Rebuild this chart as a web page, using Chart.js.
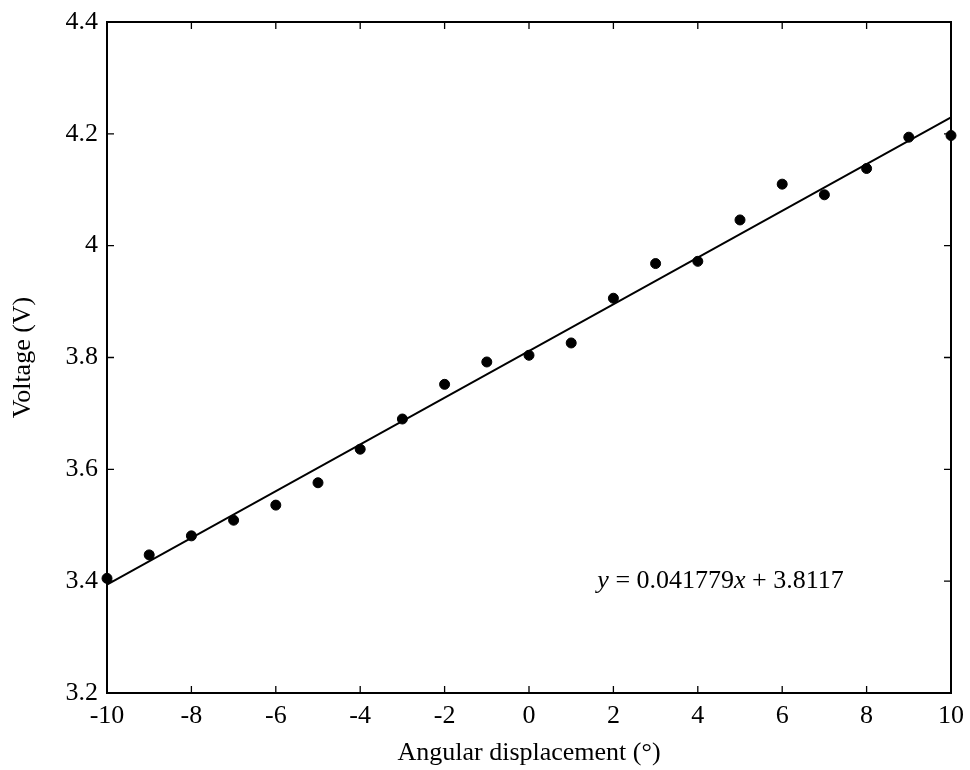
<!DOCTYPE html>
<html lang="en">
<head>
    <meta charset="UTF-8">
    <title>Voltage vs angular displacement</title>
    <script src="https://cdn.jsdelivr.net/npm/chart.js"></script>
    <style>
        html, body { margin: 0; padding: 0; background: #fff; }
        #wrap { width: 970px; height: 770px; position: relative; }
    </style>
</head>
<body>
    <div id="wrap"><canvas id="fitChart"></canvas></div>

    <script>
        // measured points
        const angles = [-10, -9, -8, -7, -6, -5, -4, -3, -2, -1, 0, 1, 2, 3, 4, 5, 6, 7, 8, 9, 10];
        const voltages = [3.405, 3.447, 3.481, 3.509, 3.536, 3.576, 3.636, 3.690, 3.752, 3.792, 3.804, 3.826,
                          3.906, 3.968, 3.972, 4.046, 4.110, 4.091, 4.138, 4.194, 4.197];

        // fitted line end points (y = 0.041779x + 3.8117)
        const fitX = [-10, 10];
        const fitY = [3.3939, 4.2295];

        const xTicks = [-10, -8, -6, -4, -2, 0, 2, 4, 6, 8, 10];
        const yTicks = [3.2, 3.4, 3.6, 3.8, 4.0, 4.2, 4.4];

        const serif = '"Liberation Serif", "DejaVu Serif", serif';
        const fsize = 26;

        // frame with inward ticks on all four sides, plus the equation label
        const framePlugin = {
            id: 'frame',
            afterDraw(chart) {
                const { ctx, chartArea: a, scales: { x, y } } = chart;
                const len = 7;
                ctx.save();
                ctx.strokeStyle = '#000';
                ctx.lineWidth = 2;
                ctx.strokeRect(a.left, a.top, a.right - a.left, a.bottom - a.top);
                ctx.lineWidth = 1.3;
                ctx.beginPath();
                xTicks.forEach(v => {
                    const px = x.getPixelForValue(v);
                    ctx.moveTo(px, a.bottom); ctx.lineTo(px, a.bottom - len);
                    ctx.moveTo(px, a.top); ctx.lineTo(px, a.top + len);
                });
                yTicks.forEach(v => {
                    const py = y.getPixelForValue(v);
                    ctx.moveTo(a.left, py); ctx.lineTo(a.left + len, py);
                    ctx.moveTo(a.right, py); ctx.lineTo(a.right - len, py);
                });
                ctx.stroke();

                // equation text
                let tx = x.getPixelForValue(1.62);
                const ty = y.getPixelForValue(3.4);
                ctx.fillStyle = '#000';
                ctx.textBaseline = 'middle';
                const parts = [
                    ['italic', 'y'], ['normal', ' = 0.041779'], ['italic', 'x'], ['normal', ' + 3.8117']
                ];
                parts.forEach(([style, txt]) => {
                    ctx.font = style + ' ' + fsize + 'px ' + serif;
                    ctx.fillText(txt, tx, ty);
                    tx += ctx.measureText(txt).width;
                });
                ctx.restore();
            }
        };

        const ctx = document.getElementById('fitChart').getContext('2d');
        new Chart(ctx, {
            type: 'scatter',
            data: {
                datasets: [
                    {
                        label: 'Measured',
                        data: angles.map((a, i) => ({ x: a, y: voltages[i] })),
                        backgroundColor: '#000',
                        borderColor: '#000',
                        pointRadius: 5,
                        pointHoverRadius: 5,
                        clip: false
                    },
                    {
                        label: 'Fit',
                        type: 'line',
                        data: fitX.map((a, i) => ({ x: a, y: fitY[i] })),
                        borderColor: '#000',
                        borderWidth: 2,
                        pointRadius: 0,
                        fill: false
                    }
                ]
            },
            options: {
                responsive: true,
                maintainAspectRatio: false,
                animation: false,
                layout: { padding: { left: 8, right: 19, top: 22, bottom: 1 } },
                plugins: {
                    legend: { display: false },
                    tooltip: { enabled: false }
                },
                scales: {
                    x: {
                        type: 'linear',
                        min: -10,
                        max: 10,
                        afterBuildTicks: s => { s.ticks = xTicks.map(v => ({ value: v })); },
                        grid: { display: false, drawTicks: false },
                        border: { display: false },
                        ticks: {
                            color: '#000',
                            padding: 8,
                            font: { family: serif, size: fsize },
                            callback: v => String(v)
                        },
                        title: {
                            display: true,
                            text: 'Angular displacement (°)',
                            color: '#000',
                            padding: { top: 4, bottom: 0 },
                            font: { family: serif, size: fsize }
                        },
                        afterFit: s => { s.height = 76; s.paddingLeft = 0; s.paddingRight = 0; }
                    },
                    y: {
                        type: 'linear',
                        min: 3.2,
                        max: 4.4,
                        afterBuildTicks: s => { s.ticks = yTicks.map(v => ({ value: v })); },
                        grid: { display: false, drawTicks: false },
                        border: { display: false },
                        ticks: {
                            color: '#000',
                            padding: 9,
                            font: { family: serif, size: fsize },
                            callback: v => (Math.abs(v - 4) < 1e-9 ? '4' : v.toFixed(1))
                        },
                        title: {
                            display: true,
                            text: 'Voltage (V)',
                            color: '#000',
                            padding: { top: 0, bottom: 0 },
                            font: { family: serif, size: fsize }
                        },
                        afterFit: s => { s.width = 99; s.paddingTop = 0; s.paddingBottom = 0; }
                    }
                }
            },
            plugins: [framePlugin]
        });
    </script>
</body>
</html>
